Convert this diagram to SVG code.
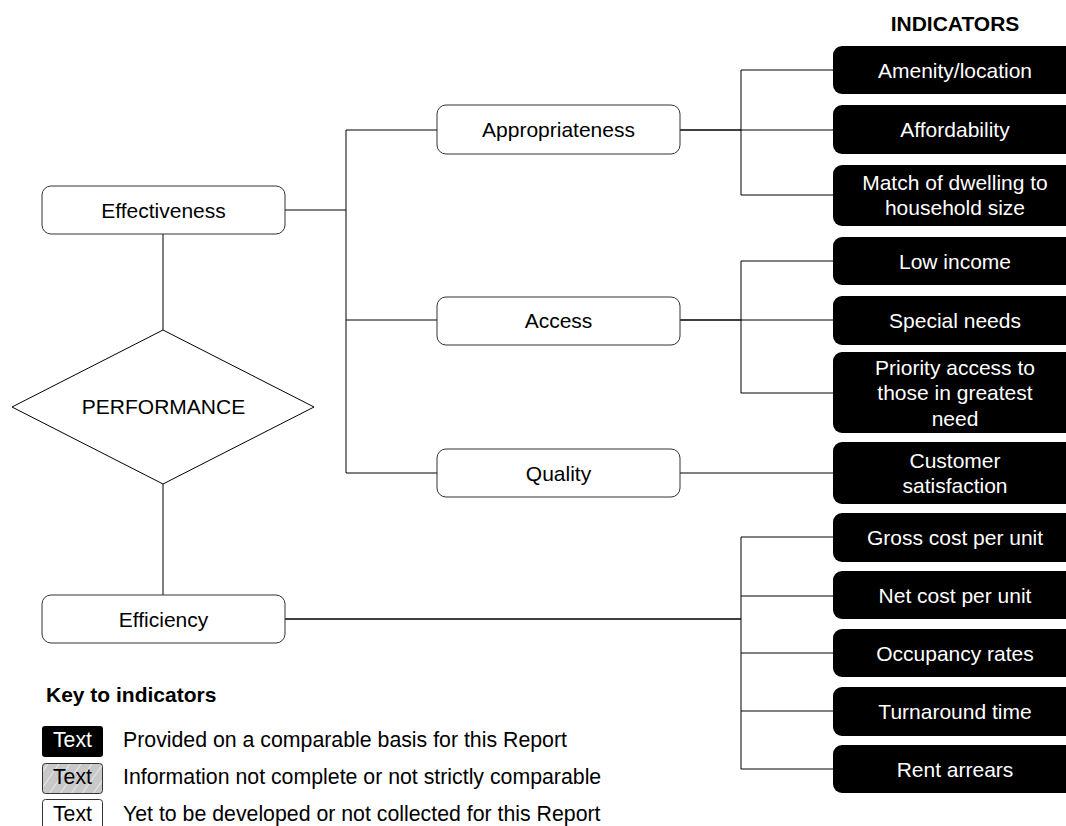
<svg xmlns="http://www.w3.org/2000/svg" width="1066" height="826" viewBox="0 0 1066 826">
<style>
text{font-family:"Liberation Sans",Arial,sans-serif;font-size:21px;fill:#000}
.b{font-weight:bold}
.lg{font-size:21.3px}
.node{fill:#fff;stroke:#333;stroke-width:1}
.ind{fill:#000;stroke:none}
.ind-t{fill:#fff;text-anchor:middle}
.c{text-anchor:middle}
.conn line,.conn polyline{stroke:#000;stroke-width:1;fill:none}
.conn .thick{stroke-width:1.6}
</style>
<defs>
<pattern id="hatch" patternUnits="userSpaceOnUse" width="9" height="9" patternTransform="rotate(35)">
<rect width="9" height="9" fill="#c8c8c8"/>
<line x1="0" y1="0" x2="0" y2="9" stroke="#fff" stroke-width="1.2"/>
</pattern>
</defs>

<g id="connectors" class="conn">
<line x1="285" y1="210" x2="346" y2="210"/>
<line x1="346" y1="130" x2="346" y2="473"/>
<line x1="346" y1="130" x2="437" y2="130"/>
<line x1="346" y1="320" x2="437" y2="320"/>
<line x1="346" y1="473" x2="437" y2="473"/>
<line x1="163" y1="234" x2="163" y2="330"/>
<line x1="163" y1="484" x2="163" y2="595"/>
<line class="thick" x1="680" y1="130" x2="741" y2="130"/>
<line x1="741" y1="70" x2="741" y2="195"/>
<line x1="741" y1="70" x2="833" y2="70"/>
<line x1="741" y1="130" x2="833" y2="130"/>
<line x1="741" y1="195" x2="833" y2="195"/>
<line class="thick" x1="680" y1="320" x2="741" y2="320"/>
<line x1="741" y1="261" x2="741" y2="393"/>
<line x1="741" y1="261" x2="833" y2="261"/>
<line x1="741" y1="320" x2="833" y2="320"/>
<line x1="741" y1="393" x2="833" y2="393"/>
<line x1="680" y1="473" x2="833" y2="473"/>
<line class="thick" x1="285" y1="619" x2="741" y2="619"/>
<line x1="741" y1="537" x2="741" y2="769"/>
<line x1="741" y1="537" x2="833" y2="537"/>
<line x1="741" y1="596" x2="833" y2="596"/>
<line x1="741" y1="653" x2="833" y2="653"/>
<line x1="741" y1="711" x2="833" y2="711"/>
<line x1="741" y1="769" x2="833" y2="769"/>
</g>

<g id="effectiveness"><rect class="node" x="42" y="186" width="243" height="48" rx="9"/><text class="c" x="163.5" y="217.5">Effectiveness</text></g>
<g id="performance"><polygon points="163,330 314,407 163,484 12,407" fill="#fff" stroke="#000" stroke-width="1"/><text class="c" x="163.5" y="414">PERFORMANCE</text></g>
<g id="efficiency"><rect class="node" x="42" y="595" width="243" height="48" rx="9"/><text class="c" x="163.5" y="626.5">Efficiency</text></g>

<g id="appropriateness"><rect class="node" x="437" y="105" width="243" height="49" rx="9"/><text class="c" x="558.5" y="137">Appropriateness</text></g>
<g id="access"><rect class="node" x="437" y="297" width="243" height="48" rx="9"/><text class="c" x="558.5" y="328">Access</text></g>
<g id="quality"><rect class="node" x="437" y="449" width="243" height="48" rx="9"/><text class="c" x="558.5" y="480.5">Quality</text></g>

<g id="indicators-title"><text class="c b" x="955" y="31">INDICATORS</text></g>

<g id="amenity"><rect class="ind" x="833" y="46" width="244" height="48" rx="9"/><text class="ind-t" x="955" y="77.5">Amenity/location</text></g>
<g id="affordability"><rect class="ind" x="833" y="105" width="244" height="49" rx="9"/><text class="ind-t" x="955" y="137">Affordability</text></g>
<g id="match"><rect class="ind" x="833" y="165" width="244" height="61" rx="9"/><text class="ind-t" x="955" y="190">Match of dwelling to</text><text class="ind-t" x="955" y="215">household size</text></g>
<g id="low-income"><rect class="ind" x="833" y="237" width="244" height="48" rx="9"/><text class="ind-t" x="955" y="268.5">Low income</text></g>
<g id="special-needs"><rect class="ind" x="833" y="296" width="244" height="49" rx="9"/><text class="ind-t" x="955" y="328">Special needs</text></g>
<g id="priority"><rect class="ind" x="833" y="352" width="244" height="81" rx="9"/><text class="ind-t" x="955" y="374.5">Priority access to</text><text class="ind-t" x="955" y="400">those in greatest</text><text class="ind-t" x="955" y="425.5">need</text></g>
<g id="customer"><rect class="ind" x="833" y="442" width="244" height="62" rx="9"/><text class="ind-t" x="955" y="468">Customer</text><text class="ind-t" x="955" y="493">satisfaction</text></g>
<g id="gross-cost"><rect class="ind" x="833" y="513" width="244" height="49" rx="9"/><text class="ind-t" x="955" y="545">Gross cost per unit</text></g>
<g id="net-cost"><rect class="ind" x="833" y="571" width="244" height="48" rx="9"/><text class="ind-t" x="955" y="602.5">Net cost per unit</text></g>
<g id="occupancy"><rect class="ind" x="833" y="629" width="244" height="48" rx="9"/><text class="ind-t" x="955" y="660.5">Occupancy rates</text></g>
<g id="turnaround"><rect class="ind" x="833" y="687" width="244" height="49" rx="9"/><text class="ind-t" x="955" y="718.5">Turnaround time</text></g>
<g id="rent-arrears"><rect class="ind" x="833" y="745" width="244" height="48" rx="9"/><text class="ind-t" x="955" y="776.5">Rent arrears</text></g>

<g id="legend">
<text class="b" x="46" y="702">Key to indicators</text>
<rect x="42" y="726" width="61" height="31" rx="3" fill="#000"/>
<text class="lg" x="72.5" y="747" style="fill:#fff" text-anchor="middle">Text</text>
<text class="lg" x="123" y="747">Provided on a comparable basis for this Report</text>
<rect x="42.5" y="763.5" width="60" height="30" rx="3" fill="url(#hatch)" stroke="#333"/>
<text class="lg" x="72.5" y="784" text-anchor="middle">Text</text>
<text class="lg" x="123" y="784">Information not complete or not strictly comparable</text>
<rect x="42.5" y="799.5" width="60" height="31" rx="3" fill="#fff" stroke="#333"/>
<text class="lg" x="72.5" y="821" text-anchor="middle">Text</text>
<text class="lg" x="123" y="821">Yet to be developed or not collected for this Report</text>
</g>
</svg>
